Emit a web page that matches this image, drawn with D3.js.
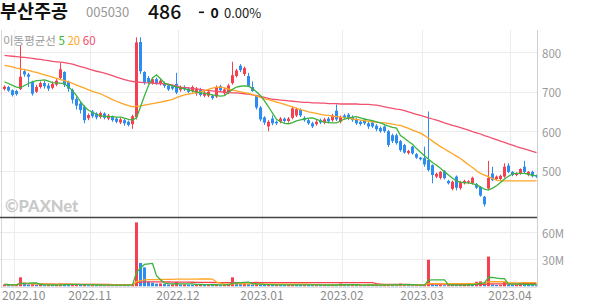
<!DOCTYPE html>
<html><head><meta charset="utf-8">
<script src="https://cdn.jsdelivr.net/npm/d3@7"></script>
<style>body{margin:0;background:#fff;} svg{display:block;font-family:"Noto Sans CJK KR","Noto Sans",sans-serif;}</style>
</head><body><svg id="c" width="594" height="304"></svg>
<script>
const dates = ["2022.09.28","2022.09.29","2022.09.30",
"2022.10.04","2022.10.05","2022.10.06","2022.10.07","2022.10.11","2022.10.12","2022.10.13","2022.10.14","2022.10.17","2022.10.18","2022.10.19","2022.10.20","2022.10.21","2022.10.24","2022.10.25","2022.10.26","2022.10.27","2022.10.28","2022.10.31",
"2022.11.01","2022.11.02","2022.11.03","2022.11.04","2022.11.07","2022.11.08","2022.11.09","2022.11.10","2022.11.11","2022.11.14","2022.11.15","2022.11.16","2022.11.17","2022.11.18","2022.11.21","2022.11.22","2022.11.23","2022.11.24","2022.11.25","2022.11.28","2022.11.29","2022.11.30",
"2022.12.01","2022.12.02","2022.12.05","2022.12.06","2022.12.07","2022.12.08","2022.12.09","2022.12.12","2022.12.13","2022.12.14","2022.12.15","2022.12.16","2022.12.19","2022.12.20","2022.12.21","2022.12.22","2022.12.23","2022.12.26","2022.12.27","2022.12.28","2022.12.29",
"2023.01.02","2023.01.03","2023.01.04","2023.01.05","2023.01.06","2023.01.09","2023.01.10","2023.01.11","2023.01.12","2023.01.13","2023.01.16","2023.01.17","2023.01.18","2023.01.19","2023.01.20","2023.01.25","2023.01.26","2023.01.27","2023.01.30","2023.01.31",
"2023.02.01","2023.02.02","2023.02.03","2023.02.06","2023.02.07","2023.02.08","2023.02.09","2023.02.10","2023.02.13","2023.02.14","2023.02.15","2023.02.16","2023.02.17","2023.02.20","2023.02.21","2023.02.22","2023.02.23","2023.02.24","2023.02.27","2023.02.28",
"2023.03.02","2023.03.03","2023.03.06","2023.03.07","2023.03.08","2023.03.09","2023.03.10","2023.03.13","2023.03.14","2023.03.15","2023.03.16","2023.03.17","2023.03.20","2023.03.21","2023.03.22","2023.03.23","2023.03.24","2023.03.27","2023.03.28","2023.03.29","2023.03.30","2023.03.31",
"2023.04.03","2023.04.04","2023.04.05","2023.04.06","2023.04.07","2023.04.10","2023.04.11"];

const open  = [707,712,704,702,707,752,744,725,700,712,722,716,710,718,735,750,725,705,682,670,662,633,650,645,636,645,632,636,632,622,628,624,618,636,826,750,735,722,732,720,722,716,714,720,705,712,708,702,696,706,690,690,690,688,714,696,698,722,740,766,745,740,712,690,660,635,612,632,624,624,632,626,634,640,654,634,628,620,618,628,622,632,628,652,624,640,642,636,630,624,628,620,622,614,608,612,600,590,590,575,
565,545,561,542,533,532,527,514,485,482,499,474,454,485,456,468,470,468,466,459,434,455,493,479,479,485,513,497,489,493,510,489,497,488];
const high  = [716,715,706,705,818,758,748,728,718,726,728,722,726,732,773,752,728,708,688,675,666,645,654,648,650,648,644,640,636,634,632,627,642,838,838,752,740,736,736,732,726,720,718,748,716,716,712,716,712,710,702,704,694,716,718,710,720,776,758,770,764,748,726,692,664,638,628,640,627,636,635,636,662,660,658,638,632,624,628,632,634,636,644,668,640,644,646,640,634,628,632,624,625,618,612,615,603,594,594,578,
568,553,563,545,535,561,650,516,495,499,502,477,475,488,474,477,476,485,469,461,436,525,510,488,490,519,519,499,496,506,525,499,500,490];
const low   = [703,700,688,690,704,738,712,690,697,708,708,702,706,714,730,712,700,670,655,645,620,628,634,630,632,630,628,624,620,618,614,612,606,630,745,718,720,718,718,716,710,702,704,694,700,702,696,698,690,688,686,686,680,684,700,692,694,718,736,750,740,712,700,655,625,616,600,615,616,620,622,622,630,636,636,624,616,608,614,618,618,620,624,626,620,630,628,624,616,614,616,606,608,600,596,596,560,570,566,548,
543,541,541,530,526,510,498,468,481,478,478,465,450,450,452,465,466,465,454,434,409,452,474,476,476,482,494,486,486,490,494,486,483,482];
const close = [713,703,692,694,738,744,738,695,712,722,714,708,720,728,757,718,708,680,665,654,628,641,638,635,646,634,640,628,624,630,620,616,638,825,752,722,724,732,722,728,715,706,708,698,712,706,700,712,708,692,698,700,684,712,704,706,716,742,754,755,760,715,702,660,630,622,624,620,620,632,626,632,658,656,640,628,620,612,624,622,630,625,640,630,636,634,632,628,620,618,620,612,612,605,600,600,565,575,570,552,
546,550,544,533,529,516,502,489,492,497,481,468,472,457,471,474,473,482,457,437,415,482,476,485,487,510,497,489,493,504,497,497,486,486];
const volume = [2,1.5,1.2,1.5,10,2.5,2,2.2,1.5,1.8,1.2,1.4,1.2,1.5,3,2.5,1.5,2,2.2,1.5,2,1.2,1.4,1.2,1.3,1.2,1.4,1.2,1.3,1.2,1.5,1.4,2,71,26,21,5,4,3,3.2,2.5,2,2.2,5,2,2.2,2,1.8,2,2.1,1.5,1.6,1.5,2,1.5,1.6,2,10,4,3,3.2,2.5,2,2.2,2,1.5,1.6,1.5,1.7,1.5,1.4,1.5,2,1.8,1.5,1.6,1.5,1.4,1.5,1.4,1.5,1.3,1.5,1.4,3,1.5,1.3,1.5,1.4,1.5,1.3,1.5,1.4,1.5,1.3,1.5,2,1.5,1.4,3,
1.5,1.4,1.2,1.3,1.2,1.5,29.5,2,1.5,1.6,1.2,1.3,1.5,1.2,1.3,1.5,3,1.5,5,5.5,4,33,2,1.5,1.6,5,2,1.5,1.6,3,2.5,1.5,1.4,1.2];
const ma5  = [725,721,716,712,710,716,721,725,728,729,730,727,723,722,722,720,712,703,690,675,662,653,648,643,639,638,637,637,636,636,633,630,628,634,662,690,716,735,743,733,722,718,715,712,710,708,705,702,699,697,696,694,692,690,689,690,698,706,712,714,715,714,708,700,690,677,662,646,630,624,620,619,622,626,629,631,633,634,630,626,623,622,621,621,626,631,633,636,637,634,631,629,627,624,621,617,613,610,608,
589,582,574,567,556,547,538,529,521,514,506,497,489,481,474,471,470,469,467,464,459,453,451,456,462,470,479,486,492,493,493,493,491,489,487];
const ma20 = [767,765,763,760,758,756,754,751,749,746,743,740,737,734,731,728,725,721,717,713,709,705,701,698,695,690,685,680,676,672,668,665,662,663,664,666,668,670,672,674,676,678,681,685,689,692,694,696,698,700,703,706,709,712,712,710,707,704,702,700,698,696,693,689,686,682,680,677,674,671,668,665,662,658,655,652,649,647,645,643,641,640,638,637,636,634,633,631,630,628,627,625,624,623,622,621,620,618,616,
615,611,607,603,599,595,589,582,575,568,561,555,549,543,537,531,523,515,508,500,493,489,485,480,476,474,474,474,474,474,474,474,474,474,474];
const ma60 = [792,791,790,789,788,787,786,784.5,783,782,780,779,777,776,775,774,772,770,767,764,761,758,755,752,750,747,744,741,737,734,731,728,726,725,724,723,722.5,722,721,721,720,719,717,714,712,711,710,708,707,706,704,703,702,701,700,699,698,697,697,696,695,694,692,690,688,686,683,681,680,679,678,677,676,675,674,673,673,672,672,671,671,670,670,670,669,669,669,669,669,668,668,668,667,666,664,662,660,658,656,
655,652,649,646,643,640,637,634,631,628,625,621,618,615,612,609,606,603,599,596,593,589,586,582,579,575,572,568,565,561,558,555,552,549,546];
const priceTicks = [500,600,700,800];
const volTicks = [30,60];
const maLabels = ["5","20","60"];

const RED = "#f5404f", BLUE = "#2d8cf0";
const C5 = "#3cb43c", C20 = "#ffa524", C60 = "#f2506f";
const svg = d3.select("#c");
const plotL = 0, plotR = 537;
const priceTop = 30, priceBot = 217, volBot = 287;

const x = d3.scaleBand().domain(dates).range([2, 538]).padding(0);
const y = d3.scaleLinear().domain([500, 800]).range([170.7, 52.3]);
const yv = d3.scaleLinear().domain([0, 60]).range([286.3, 232.3]);
const cx = i => x(dates[i]) + 2;

const defs = svg.append("defs");
defs.append("clipPath").attr("id","cp")
  .append("rect").attr("x",plotL).attr("y",priceTop).attr("width",plotR-plotL).attr("height",priceBot-priceTop);
defs.append("clipPath").attr("id","cv")
  .append("rect").attr("x",plotL).attr("y",priceBot).attr("width",plotR-plotL).attr("height",volBot-priceBot);

// month ticks
const monthStarts = dates.filter((d,i)=> i>0 && d.slice(0,7)!==dates[i-1].slice(0,7));
const grid = svg.append("g");
monthStarts.forEach(d=>{
  grid.append("line").attr("x1",x(d)+0.5).attr("x2",x(d)+0.5).attr("y1",priceTop).attr("y2",volBot)
    .attr("stroke","#ececec").attr("stroke-width",1);
});
priceTicks.forEach(t=>{
  grid.append("line").attr("x1",plotL).attr("x2",plotR).attr("y1",Math.round(y(t))+0.5).attr("y2",Math.round(y(t))+0.5)
    .attr("stroke","#ececec");
});
volTicks.forEach(t=>{
  grid.append("line").attr("x1",plotL).attr("x2",plotR).attr("y1",Math.round(yv(t))+0.5).attr("y2",Math.round(yv(t))+0.5)
    .attr("stroke","#ececec");
});
// borders
svg.append("line").attr("x1",1.5).attr("x2",1.5).attr("y1",priceTop).attr("y2",volBot).attr("stroke","#d8d8d8");
svg.append("line").attr("x1",plotR+0.5).attr("x2",plotR+0.5).attr("y1",priceTop).attr("y2",volBot).attr("stroke","#cfcfcf");
svg.append("line").attr("x1",1).attr("x2",plotR).attr("y1",volBot+0.5).attr("y2",volBot+0.5).attr("stroke","#e0e0e0");
svg.append("line").attr("x1",0).attr("x2",plotR).attr("y1",priceBot+0.5).attr("y2",priceBot+0.5).attr("stroke","#444").attr("stroke-width",1.3);

// watermark
svg.append("text").attr("x",5).attr("y",212).attr("font-family","Lato, 'Open Sans', sans-serif")
  .attr("font-size",16.5).attr("font-weight",900).attr("fill","#c9c9c9").text("©PAXNet");

// candles
const pg = svg.append("g").attr("clip-path","url(#cp)");
dates.forEach((d,i)=>{
  const up = close[i] >= open[i];
  const col = up ? RED : BLUE;
  const c = cx(i);
  pg.append("line").attr("x1",c+0.5).attr("x2",c+0.5).attr("y1",y(high[i])).attr("y2",y(low[i])).attr("stroke",col).attr("stroke-width",1);
  const top = y(Math.max(open[i],close[i])), bot = y(Math.min(open[i],close[i]));
  pg.append("rect").attr("x",c-1).attr("width",3).attr("y",top).attr("height",Math.max(1,bot-top)).attr("fill",col);
});
const line = arr => d3.line().x((v,i)=>cx(i)+0.5).y(v=>y(v))(arr);
[[ma60,C60],[ma20,C20],[ma5,C5]].forEach(([a,c])=>{
  pg.append("path").attr("d",line(a)).attr("fill","none").attr("stroke",c).attr("stroke-width",1.3);
});

// volume (red when volume rises vs previous day)
const vg = svg.append("g").attr("clip-path","url(#cv)");
dates.forEach((d,i)=>{
  const col = (i===0 || volume[i] > volume[i-1]) ? RED : BLUE;
  const t = yv(volume[i]);
  vg.append("rect").attr("x",cx(i)-1).attr("width",3).attr("y",t).attr("height",yv(0)-t).attr("fill",col);
});
const vma = n => volume.map((v,i)=>{ const s = volume.slice(Math.max(0,i-n+1), i+1); return d3.mean(s); });
const vline = arr => d3.line().x((v,i)=>cx(i)+0.5).y(v=>yv(v))(arr);
[[vma(60),RED],[vma(20),C20],[vma(5),C5]].forEach(([a,c])=>{
  vg.append("path").attr("d",vline(a)).attr("fill","none").attr("stroke",c).attr("stroke-width",1.3);
});

// axis labels
const ax = svg.append("g").attr("font-size",11.5).attr("fill","#999");
priceTicks.forEach(t=>{
  ax.append("text").attr("x",542).attr("y",y(t)+5.5).text(t);
});
volTicks.forEach(t=>{
  ax.append("text").attr("x",542).attr("y",yv(t)+5.5).text(t+"M");
});
const xl = svg.append("g").attr("font-size",12).attr("fill","#8c8c8c");
monthStarts.forEach(d=>{
  const lbl = d.slice(0,7);
  const t = xl.append("text").attr("y",300).text(lbl);
  const w = t.node().getComputedTextLength();
  let px = x(d) - w/2;
  if (px < 2) px = 2;
  t.attr("x",px);
});

// legend
const lg = svg.append("text").attr("x",3).attr("y",45).attr("font-size",11.5);
lg.append("tspan").attr("fill","#9a9a9a").text("이동평균선 ");
lg.append("tspan").attr("fill",C5).text(maLabels[0]+" ");
lg.append("tspan").attr("fill",C20).text(maLabels[1]+" ");
lg.append("tspan").attr("fill",C60).text(maLabels[2]);

// header
svg.append("text").attr("x",0).attr("y",18).attr("font-size",18.5).attr("font-weight",700).attr("fill","#111").text("부산주공");
svg.append("text").attr("x",86).attr("y",17).attr("font-size",13).attr("fill","#999").text("005030");
svg.append("text").attr("x",148).attr("y",18.5).attr("font-size",19.5).attr("font-weight",500).attr("fill","#111").text(close[close.length-1]);
svg.append("rect").attr("x",199).attr("y",11.5).attr("width",5).attr("height",1.6).attr("fill","#111");
svg.append("text").attr("x",210.5).attr("y",17.5).attr("font-size",14).attr("font-weight",700).attr("fill","#111").text(close[close.length-1]-close[close.length-2]);
svg.append("text").attr("x",224).attr("y",17.5).attr("font-size",13).attr("fill","#222").text("0.00%");
</script></body></html>
